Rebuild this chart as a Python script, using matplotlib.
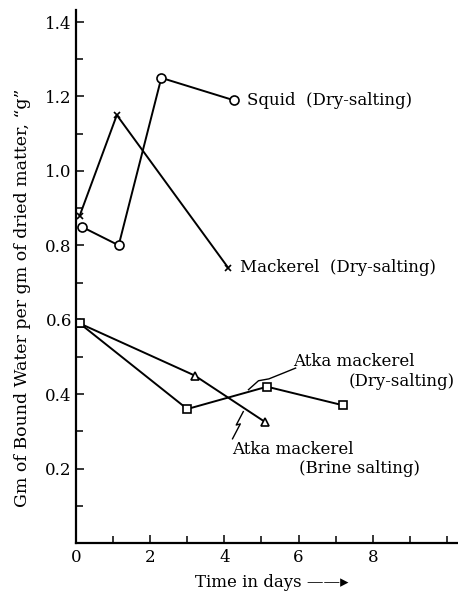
import matplotlib
matplotlib.use("Agg")
import matplotlib.pyplot as plt
from matplotlib.ticker import MultipleLocator

plt.rcParams['font.family'] = ['DejaVu Serif']

# days, bound water (g per g dried matter)
squid_x = [0.15, 1.15, 2.3, 4.25]
squid_y = [0.85, 0.80, 1.25, 1.19]
mack_x = [0.1, 1.1, 4.1]
mack_y = [0.88, 1.15, 0.74]
atka_dry_x = [0.1, 3.0, 5.15, 7.2]
atka_dry_y = [0.59, 0.36, 0.42, 0.37]
atka_brine_x = [0.1, 3.2, 5.1]
atka_brine_y = [0.59, 0.45, 0.325]

fig = plt.figure(figsize=(4.58, 5.97), dpi=100)
ax = fig.add_axes([0.166, 0.0905, 0.834, 0.8925])

lw = 1.4
ax.plot(squid_x, squid_y, '-o', color='k', lw=lw, ms=6.5, mfc='white', mew=1.2)
ax.plot(mack_x, mack_y, '-x', color='k', lw=lw, ms=5, mew=1.2)
ax.plot(atka_brine_x, atka_brine_y, '-^', color='k', lw=lw, ms=6, mfc='white', mew=1.2)
ax.plot(atka_dry_x, atka_dry_y, '-s', color='k', lw=lw, ms=5.5, mfc='white', mew=1.2)

ax.set_xlim(0, 10.3)
ax.set_ylim(0, 1.432)
ax.spines['top'].set_visible(False)
ax.spines['right'].set_visible(False)
ax.spines['left'].set_linewidth(1.6)
ax.spines['bottom'].set_linewidth(1.6)

ax.xaxis.set_minor_locator(MultipleLocator(1))
ax.yaxis.set_minor_locator(MultipleLocator(0.1))
ax.set_xticks([0, 2, 4, 6, 8])
ax.set_xticklabels(['0', '2', '4', '6', '8'])
ax.set_yticks([0.2, 0.4, 0.6, 0.8, 1.0, 1.2, 1.4])
ax.set_yticklabels(['0.2', '0.4', '0.6', '0.8', '1.0', '1.2', '1.4'])
ax.tick_params(which='both', direction='in', width=1.1, labelsize=12)
ax.tick_params(which='major', length=6)
ax.tick_params(which='minor', length=5)
ax.tick_params(axis='y', pad=3)
ax.tick_params(axis='x', pad=4)

fs = 12
ax.text(4.62, 1.19, 'Squid  (Dry-salting)', fontsize=fs, va='center')
ax.text(4.42, 0.74, 'Mackerel  (Dry-salting)', fontsize=fs, va='center')
ax.text(5.86, 0.487, 'Atka mackerel', fontsize=fs, va='center')
ax.text(7.35, 0.433, '(Dry-salting)', fontsize=fs, va='center')
ax.text(4.22, 0.25, 'Atka mackerel', fontsize=fs, va='center')
ax.text(6.0, 0.199, '(Brine salting)', fontsize=fs, va='center')

# leader lines to the Atka mackerel labels
ax.plot([5.92, 5.6, 5.2, 4.92, 4.65], [0.47, 0.457, 0.441, 0.436, 0.412], color='k', lw=1)
ax.plot([4.22, 4.43, 4.32, 4.51], [0.28, 0.32, 0.317, 0.353], color='k', lw=1)

ax.set_ylabel('Gm of Bound Water per gm of dried matter, \u201cg\u201d', fontsize=12.5)
ax.yaxis.set_label_coords(-0.118, 0.46)
ax.set_xlabel('Time in days \u2014\u2014\u25b8', fontsize=12)
ax.xaxis.set_label_coords(0.513, -0.058)

fig.savefig('out.png', dpi=100)
